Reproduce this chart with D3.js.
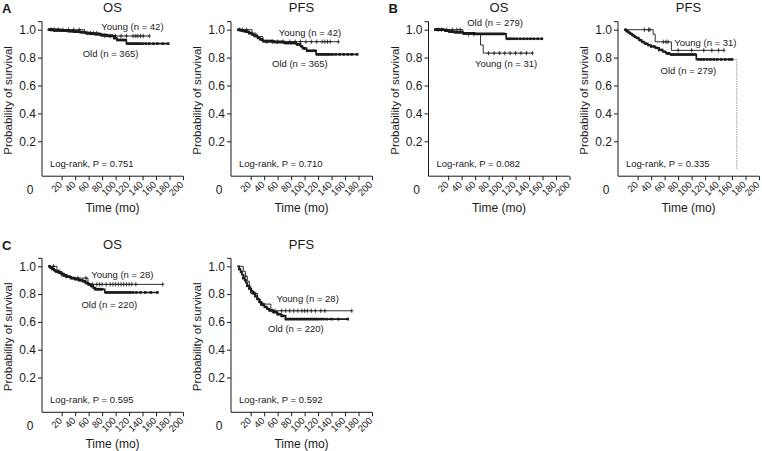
<!DOCTYPE html>
<html><head><meta charset="utf-8">
<script src="https://cdn.jsdelivr.net/npm/d3@7"></script>
<style>body{margin:0;background:#fff}svg{display:block;font-family:"Liberation Sans",Arial,Helvetica,sans-serif}</style>
</head><body><svg id="c" width="762" height="451"></svg>
<script>
// ---------- data ----------
const xTickValues = [20,40,60,80,100,120,140,160,180,200];
const yTickValues = [0.2,0.4,0.6,0.8,1.0];
const panelLetters = ["A","B","C"];
const panelTitles = ["OS","PFS","OS","PFS","OS","PFS"];
const youngLabels = ["Young (n = 42)","Young (n = 42)","Young (n = 31)","Young (n = 31)","Young (n = 28)","Young (n = 28)"];
const oldLabels = ["Old (n = 365)","Old (n = 365)","Old (n = 279)","Old (n = 279)","Old (n = 220)","Old (n = 220)"];
const pValues = ["0.751","0.710","0.082","0.335","0.595","0.592"];

// Kaplan-Meier steps: [time (mo), survival after event]; censor: times of censored patients
const aOsOldSteps = [[8,0.997],[20,0.994],[30,0.99],[38,0.986],[48,0.982],[55,0.976],[62,0.972],[70,0.968],[78,0.962],[88,0.956],[98,0.94],[102,0.926],[116,0.9]];
const aOsOldCensor = [1,2,3,4,5,6,7,8,9,10,11,12,13,14,15,16,17,18,19,20,22,24,26,28,30,32,34,36,38,40,42,44,46,48,50,52,54,56,58,60,62,64,66,68,70,72,74,76,78,80,82,84,86,88,90,92,94,96,98,100,103,106,109,112,115,118,121,124,127,130,133,136,140,145,150,156,162,170,178];
const aOsYoungSteps = [[54,0.976],[78,0.955]];
const aOsYoungCensor = [4,9,15,22,30,38,46,58,63,67,72,84,92,100,108,116,126,130,133,137,141,150];

const aPfsOldSteps = [[6,0.995],[10,0.99],[14,0.985],[18,0.975],[22,0.965],[26,0.955],[30,0.94],[34,0.93],[38,0.918],[55,0.912],[70,0.905],[88,0.895],[94,0.88],[97,0.866],[103,0.849],[117,0.823]];
const aPfsOldCensor = [2,4,6,8,10,12,14,16,18,20,23,26,29,32,35,37,39,41,43,45,47,49,51,53,55,57,59,61,63,65,67,69,71,73,75,77,79,81,83,85,87,89,91,93,96,99,101,104,107,110,113,116,119,122,125,128,131,134,137,141,146,152,158,164,170,178];
const aPfsYoungSteps = [[22,0.976],[28,0.951],[38,0.914]];
const aPfsYoungCensor = [3,8,14,30,44,52,60,68,78,86,94,102,110,118,126,130,134,138,150];

const bOsOldSteps = [[15,0.993],[22,0.986],[30,0.982],[42,0.974],[60,0.97],[106,0.935]];
const bOsOldCensor = [1,2,3,4,5,6,8,10,12,14,16,18,20,22,24,26,28,30,32,34,36,38,40,43,46,49,52,55,58,61,64,67,70,73,76,79,82,85,88,91,94,97,100,103,108,111,114,118,122,127,132,137,142,147,153,159];
const bOsYoungSteps = [[42,0.967],[68,0.89],[72,0.832]];
const bOsYoungCensor = [5,10,18,26,33,38,50,58,80,88,96,104,112,120,128,136,145];

const bPfsOldSteps = [[3,0.99],[6,0.98],[9,0.97],[12,0.96],[15,0.95],[18,0.94],[22,0.925],[26,0.912],[30,0.9],[35,0.89],[40,0.88],[46,0.87],[52,0.855],[57,0.842],[62,0.83],[68,0.822],[107,0.787],[167,0]];
const bPfsOldCensor = [2,4,7,10,13,16,20,24,28,32,36,40,44,48,52,56,60,64,66,70,72,75,78,81,84,87,90,93,96,99,102,105,110,114,118,123,128,133,138,144,150,156,160];
const bPfsYoungSteps = [[43,0.967],[46,0.913],[70,0.852]];
const bPfsYoungCensor = [30,36,38,58,62,65,80,100,118,130,140,148];

const cOsOldSteps = [[3,0.99],[6,0.98],[9,0.97],[12,0.962],[16,0.955],[20,0.945],[24,0.935],[28,0.925],[34,0.915],[40,0.908],[46,0.9],[52,0.892],[56,0.88],[60,0.87],[64,0.858],[67,0.845],[70,0.835],[84,0.812]];
const cOsOldCensor = [2,4,6,8,10,12,14,16,18,20,22,24,26,28,30,32,34,36,38,40,42,44,46,48,50,52,54,56,58,60,62,64,66,68,70,72,74,76,78,80,86,89,92,95,98,101,104,107,110,113,116,119,122,126,131,137,144,152,162];
const cOsYoungSteps = [[13,0.964],[20,0.929],[32,0.915],[59,0.87]];
const cOsYoungCensor = [8,16,26,44,56,66,72,76,80,86,92,96,100,104,108,112,116,120,124,130,170];

const cPfsOldSteps = [[3,0.98],[5,0.96],[7,0.94],[9,0.915],[11,0.9],[13,0.88],[15,0.86],[18,0.84],[21,0.82],[24,0.805],[27,0.785],[30,0.765],[33,0.745],[36,0.725],[40,0.708],[44,0.695],[48,0.683],[54,0.67],[60,0.655],[66,0.643],[72,0.62]];
const cPfsOldCensor = [3,6,9,12,15,18,21,24,27,30,33,36,39,42,45,48,51,54,57,60,63,66,69,72,75,78,81,84,87,90,93,96,99,102,105,108,111,114,117,120,124,128,133,140,150,164];
const cPfsYoungSteps = [[9,0.964],[12,0.929],[15,0.893],[18,0.857],[20,0.805],[30,0.765],[34,0.728],[50,0.68]];
const cPfsYoungCensor = [12,26,38,52,56,66,72,78,84,90,96,100,104,110,116,124,130,170];

// ---------- layout ----------
const rows = [{unitTop:29.7, unitH:139.5}, {unitTop:266.3, unitH:139}];
const cols = [42, 231, 428.5, 618];
const panelDefs = [
  {row:0,col:0,letter:0,old:[aOsOldSteps,aOsOldCensor],young:[aOsYoungSteps,aOsYoungCensor],youngAt:[125,1.0],oldAt:[92.5,0.802]},
  {row:0,col:1,old:[aPfsOldSteps,aPfsOldCensor],young:[aPfsYoungSteps,aPfsYoungCensor],youngAt:[108,0.958],oldAt:[93,0.73]},
  {row:0,col:2,letter:1,old:[bOsOldSteps,bOsOldCensor],young:[bOsYoungSteps,bOsYoungCensor],youngAt:[106,0.73],oldAt:[89.6,1.024]},
  {row:0,col:3,old:[bPfsOldSteps,bPfsOldCensor],young:[bPfsYoungSteps,bPfsYoungCensor],youngAt:[120.5,0.883],oldAt:[95.3,0.682]},
  {row:1,col:0,letter:2,old:[cOsOldSteps,cOsOldCensor],young:[cOsYoungSteps,cOsYoungCensor],youngAt:[110,0.919],oldAt:[90.6,0.697]},
  {row:1,col:1,old:[cPfsOldSteps,cPfsOldCensor],young:[cPfsYoungSteps,cPfsYoungCensor],youngAt:[104.6,0.74],oldAt:[87.1,0.524]}
];

const svg = d3.select("#c");
const ink = "#1a1a1a";

function survAt(steps, t){ let s=1; for(const [tt,ss] of steps){ if(tt<=t) s=ss; } return s; }

panelDefs.forEach((p,i)=>{
  const ax = cols[p.col];
  const r = rows[p.row];
  const y = d3.scaleLinear().domain([0,1]).range([r.unitTop + r.unitH, r.unitTop]);
  const x = d3.scaleLinear().domain([0,200]).range([ax+6.2, ax+141]);
  const xAxisY = y(0) + 7;
  const axisTop = y(1) - 8;
  const g = svg.append("g");

  g.append("path").attr("d", `M${ax-4},${axisTop}H${ax}V${xAxisY}H${x(200)}`)
    .attr("fill","none").attr("stroke",ink).attr("stroke-width",1);

  const ya = d3.axisLeft(y).tickValues(yTickValues).tickSize(4).tickSizeOuter(0).tickFormat(d3.format(".1f"));
  const yg = g.append("g").attr("transform",`translate(${ax},0)`).call(ya);
  yg.select(".domain").remove();
  yg.selectAll("line").attr("stroke",ink);
  yg.selectAll("text").attr("font-size",12).attr("fill",ink).attr("font-family",null).attr("x",-6);

  const xa = d3.axisBottom(x).tickValues(xTickValues).tickSize(4).tickSizeOuter(0);
  const xg = g.append("g").attr("transform",`translate(0,${xAxisY})`).call(xa);
  xg.select(".domain").remove();
  xg.selectAll("line").attr("stroke",ink);
  xg.selectAll("text").attr("font-size",9.5).attr("fill",ink).attr("font-family",null)
    .attr("text-anchor","end").attr("dy",null).attr("y",null)
    .attr("transform","translate(0.5,9) rotate(-45)");

  g.append("text").attr("x",ax-12).attr("y",xAxisY+18).attr("font-size",12).attr("fill",ink).attr("text-anchor","middle").text("0");

  const cx = (ax + x(200))/2;
  g.append("text").attr("x",cx).attr("y",y(1)-17.5).attr("font-size",13).attr("fill",ink).attr("text-anchor","middle").text(panelTitles[i]);
  g.append("text").attr("x",cx).attr("y",xAxisY+36).attr("font-size",12).attr("fill",ink).attr("text-anchor","middle").text("Time (mo)");
  g.append("text").attr("transform",`translate(${ax-30},${y(0.5)+1}) rotate(-90)`).attr("font-size",11.5).attr("fill",ink).attr("text-anchor","middle").text("Probability of survival");
  if(p.letter!==undefined){
    g.append("text").attr("x",ax-40).attr("y",y(1)-16.5).attr("font-size",13).attr("font-weight","bold").attr("fill",ink).text(panelLetters[p.letter]);
  }

  const line = d3.line().x(d=>x(d[0])).y(d=>y(d[1])).curve(d3.curveStepAfter);
  function drawCurve(steps, censor, kind){
    const lastC = d3.max(censor);
    const dropIdx = steps.findIndex(s=>s[1]===0);
    const main = steps.filter(s=>s[0]<=lastC);
    const pts = [[0,1], ...main, [lastC, survAt(steps,lastC)]];
    g.append("path").attr("d",line(pts)).attr("fill","none").attr("stroke",ink)
      .attr("stroke-width", kind==="old"?1.6:0.9);
    if(dropIdx>=0){
      const drop = steps[dropIdx];
      const tail = [[lastC, survAt(steps,lastC)],[drop[0],0],[drop[0],0]];
      g.append("path").attr("d",line(tail)).attr("fill","none").attr("stroke","#777")
        .attr("stroke-width",0.9).attr("stroke-dasharray","1.2,1.2");
    }
    if(kind==="old"){
      g.selectAll(null).data(censor).enter().append("rect")
        .attr("x",d=>x(d)-1.3).attr("y",d=>y(survAt(steps,d))-1.3).attr("width",2.6).attr("height",2.6).attr("fill",ink);
    } else {
      g.selectAll(null).data(censor).enter().append("path")
        .attr("d",d=>{const px=x(d),py=y(survAt(steps,d));return `M${px},${py-2.2}V${py+2.2}M${px-1.6},${py}H${px+1.6}`;})
        .attr("stroke",ink).attr("stroke-width",0.8).attr("fill","none");
    }
  }
  drawCurve(p.old[0], p.old[1], "old");
  drawCurve(p.young[0], p.young[1], "young");

  g.append("text").attr("x",x(p.youngAt[0])).attr("y",y(p.youngAt[1])).attr("font-size",9.5).attr("fill",ink).attr("text-anchor","middle").text(youngLabels[i]);
  g.append("text").attr("x",x(p.oldAt[0])).attr("y",y(p.oldAt[1])).attr("font-size",9.5).attr("fill",ink).attr("text-anchor","middle").text(oldLabels[i]);
  g.append("text").attr("x",ax+8).attr("y",y(0.017)).attr("font-size",9.5).attr("fill",ink).text("Log-rank, P = " + pValues[i]);
});
</script>
</body></html>
